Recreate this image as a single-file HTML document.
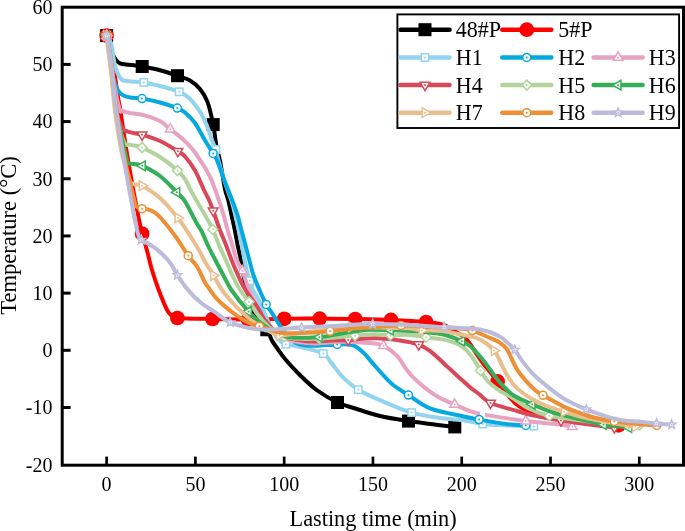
<!DOCTYPE html>
<html><head><meta charset="utf-8"><style>
html,body{margin:0;padding:0;background:#fff;}
body{width:685px;height:531px;overflow:hidden;font-family:"Liberation Serif",serif;}
svg{display:block;will-change:transform;}
</style></head><body>
<svg width="685" height="531" viewBox="0 0 685 531" font-family="Liberation Serif" font-size="20" fill="#000">
<rect width="685" height="531" fill="#fff"/>
<defs><clipPath id="pc"><rect x="63" y="8" width="620" height="457"/></clipPath></defs><g clip-path="url(#pc)"><path d="M106.60,35.60 C106.97,37.00 108.03,41.43 108.80,44.00 C109.57,46.57 110.42,49.00 111.20,51.00 C111.98,53.00 112.62,54.42 113.50,56.00 C114.38,57.58 115.42,59.28 116.50,60.50 C117.58,61.72 118.42,62.62 120.00,63.30 C121.58,63.98 123.38,64.25 126.00,64.60 C128.62,64.95 133.00,65.08 135.70,65.40 C138.40,65.72 138.15,65.68 142.20,66.50 C146.25,67.32 154.12,68.77 160.00,70.30 C165.88,71.83 172.50,74.00 177.50,75.70 C182.50,77.40 186.25,78.28 190.00,80.50 C193.75,82.72 197.07,85.40 200.00,89.00 C202.93,92.60 205.40,96.17 207.60,102.10 C209.80,108.03 211.88,118.28 213.20,124.60 C214.52,130.92 214.83,135.77 215.50,140.00 C216.17,144.23 216.48,146.67 217.20,150.00 C217.92,153.33 218.92,155.83 219.80,160.00 C220.68,164.17 221.60,170.00 222.50,175.00 C223.40,180.00 224.25,185.83 225.20,190.00 C226.15,194.17 227.15,195.83 228.20,200.00 C229.25,204.17 230.40,210.00 231.50,215.00 C232.60,220.00 233.78,225.00 234.80,230.00 C235.82,235.00 236.58,240.00 237.60,245.00 C238.62,250.00 239.75,254.17 240.90,260.00 C242.05,265.83 243.15,273.67 244.50,280.00 C245.85,286.33 247.42,292.50 249.00,298.00 C250.58,303.50 252.42,308.92 254.00,313.00 C255.58,317.08 257.28,319.92 258.50,322.50 C259.72,325.08 260.67,327.05 261.30,328.50 C261.93,329.95 262.13,330.75 262.30,331.20 L262.30,331.20 C262.30,331.70 262.30,333.70 262.30,334.20 L262.30,334.20 C263.48,334.23 268.22,334.37 269.40,334.40 L269.40,334.40 C269.80,335.37 270.53,337.93 271.80,340.20 C273.07,342.47 274.65,344.70 277.00,348.00 C279.35,351.30 282.08,355.50 285.90,360.00 C289.72,364.50 294.78,370.00 299.90,375.00 C305.02,380.00 310.33,385.42 316.60,390.00 C322.87,394.58 331.05,399.42 337.50,402.50 C343.95,405.58 348.22,406.25 355.30,408.50 C362.38,410.75 371.13,413.90 380.00,416.00 C388.87,418.10 400.05,419.77 408.50,421.10 C416.95,422.43 422.98,423.03 430.70,424.00 C438.42,424.97 450.78,426.42 454.80,426.90" fill="none" stroke="#000000" stroke-width="4.0" stroke-linejoin="miter" stroke-linecap="round"/><rect x="100.10" y="29.10" width="13.00" height="13.00" fill="#000000"/><rect x="135.70" y="60.00" width="13.00" height="13.00" fill="#000000"/><rect x="171.00" y="69.20" width="13.00" height="13.00" fill="#000000"/><rect x="206.70" y="118.10" width="13.00" height="13.00" fill="#000000"/><rect x="331.00" y="396.00" width="13.00" height="13.00" fill="#000000"/><rect x="402.00" y="414.60" width="13.00" height="13.00" fill="#000000"/><rect x="448.30" y="420.40" width="13.00" height="13.00" fill="#000000"/><path d="M106.60,35.60 C107.25,38.83 109.17,48.53 110.50,55.00 C111.83,61.47 113.27,66.90 114.60,74.40 C115.93,81.90 117.55,94.07 118.50,100.00 C119.45,105.93 118.98,101.67 120.30,110.00 C121.62,118.33 124.23,136.67 126.40,150.00 C128.57,163.33 131.12,178.00 133.30,190.00 C135.48,202.00 138.03,214.72 139.50,222.00 C140.97,229.28 141.15,230.03 142.10,233.70 C143.05,237.37 144.15,240.28 145.20,244.00 C146.25,247.72 147.27,251.67 148.40,256.00 C149.53,260.33 150.28,264.33 152.00,270.00 C153.72,275.67 156.18,283.33 158.70,290.00 C161.22,296.67 164.92,305.73 167.10,310.00 C169.28,314.27 170.08,314.27 171.80,315.60 C173.52,316.93 170.62,317.43 177.40,318.00 C184.18,318.57 200.73,318.75 212.50,319.00 C224.27,319.25 236.05,319.53 248.00,319.50 C259.95,319.47 272.25,318.95 284.20,318.80 C296.15,318.65 307.87,318.57 319.70,318.60 C331.53,318.63 343.32,318.78 355.20,319.00 C367.08,319.22 379.18,319.40 391.00,319.90 C402.82,320.40 417.50,321.22 426.10,322.00 C434.70,322.78 438.62,323.57 442.60,324.60 C446.58,325.63 447.55,326.87 450.00,328.20 C452.45,329.53 454.77,330.97 457.30,332.60 C459.83,334.23 463.00,336.02 465.20,338.00 C467.40,339.98 467.87,340.75 470.50,344.50 C473.13,348.25 476.48,354.35 481.00,360.50 C485.52,366.65 493.77,376.43 497.60,381.40 C501.43,386.37 501.93,387.60 504.00,390.30 C506.07,393.00 508.00,395.32 510.00,397.60 C512.00,399.88 513.80,402.17 516.00,404.00 C518.20,405.83 520.42,407.22 523.20,408.60 C525.98,409.98 527.82,410.73 532.70,412.30 C537.58,413.87 543.78,416.22 552.50,418.00 C561.22,419.78 574.00,421.78 585.00,423.00 C596.00,424.22 612.92,424.92 618.50,425.30" fill="none" stroke="#ff0000" stroke-width="4.0" stroke-linejoin="round" stroke-linecap="round"/><circle cx="106.60" cy="35.60" r="7.35" fill="#ff0000"/><circle cx="142.10" cy="233.70" r="7.35" fill="#ff0000"/><circle cx="177.40" cy="318.00" r="7.35" fill="#ff0000"/><circle cx="212.50" cy="319.00" r="7.35" fill="#ff0000"/><circle cx="248.00" cy="319.50" r="7.35" fill="#ff0000"/><circle cx="284.20" cy="318.80" r="7.35" fill="#ff0000"/><circle cx="319.70" cy="318.60" r="7.35" fill="#ff0000"/><circle cx="355.20" cy="319.00" r="7.35" fill="#ff0000"/><circle cx="391.00" cy="319.90" r="7.35" fill="#ff0000"/><circle cx="426.10" cy="322.00" r="7.35" fill="#ff0000"/><circle cx="497.60" cy="381.40" r="7.35" fill="#ff0000"/><circle cx="618.50" cy="425.30" r="7.35" fill="#ff0000"/><path d="M106.60,35.60 C107.17,36.50 109.15,39.27 110.00,41.00 C110.85,42.73 111.17,43.67 111.70,46.00 C112.23,48.33 112.78,52.33 113.20,55.00 C113.62,57.67 113.80,59.83 114.20,62.00 C114.60,64.17 114.83,65.77 115.60,68.00 C116.37,70.23 117.63,73.38 118.80,75.40 C119.97,77.42 120.57,79.08 122.60,80.10 C124.63,81.12 127.47,81.12 131.00,81.50 C134.53,81.88 138.97,81.65 143.80,82.40 C148.63,83.15 154.10,84.43 160.00,86.00 C165.90,87.57 174.40,89.85 179.20,91.80 C184.00,93.75 185.63,94.83 188.80,97.70 C191.97,100.57 195.75,105.62 198.20,109.00 C200.65,112.38 201.92,114.87 203.50,118.00 C205.08,121.13 206.23,123.97 207.70,127.80 C209.17,131.63 210.95,137.38 212.30,141.00 C213.65,144.62 214.80,146.33 215.80,149.50 C216.80,152.67 216.63,154.08 218.30,160.00 C219.97,165.92 223.65,178.33 225.80,185.00 C227.95,191.67 229.62,195.00 231.20,200.00 C232.78,205.00 234.07,210.00 235.30,215.00 C236.53,220.00 237.52,225.00 238.60,230.00 C239.68,235.00 240.80,240.00 241.80,245.00 C242.80,250.00 243.60,255.00 244.60,260.00 C245.60,265.00 246.93,271.55 247.80,275.00 C248.67,278.45 248.95,278.20 249.80,280.70 C250.65,283.20 251.67,287.25 252.90,290.00 C254.13,292.75 255.22,293.23 257.20,297.20 C259.18,301.17 262.33,308.33 264.80,313.80 C267.27,319.27 269.63,325.63 272.00,330.00 C274.37,334.37 276.70,337.63 279.00,340.00 C281.30,342.37 281.87,342.95 285.80,344.20 C289.73,345.45 296.35,345.93 302.60,347.50 C308.85,349.07 318.53,351.08 323.30,353.60 C328.07,356.12 327.87,358.58 331.20,362.60 C334.53,366.62 338.78,373.18 343.30,377.70 C347.82,382.22 352.18,385.95 358.30,389.70 C364.42,393.45 371.10,396.38 380.00,400.20 C388.90,404.02 401.70,409.63 411.70,412.60 C421.70,415.57 431.12,416.70 440.00,418.00 C448.88,419.30 457.88,419.40 465.00,420.40 C472.12,421.40 475.20,423.15 482.70,424.00 C490.20,424.85 501.48,425.13 510.00,425.50 C518.52,425.87 529.83,426.08 533.80,426.20" fill="none" stroke="#92d3f0" stroke-width="4.0" stroke-linejoin="round" stroke-linecap="round"/><rect x="102.90" y="31.90" width="7.40" height="7.40" fill="#fff" stroke="#92d3f0" stroke-width="1.5"/><circle cx="106.60" cy="35.60" r="1.0" fill="#92d3f0"/><rect x="140.10" y="78.70" width="7.40" height="7.40" fill="#fff" stroke="#92d3f0" stroke-width="1.5"/><circle cx="143.80" cy="82.40" r="1.0" fill="#92d3f0"/><rect x="175.50" y="88.10" width="7.40" height="7.40" fill="#fff" stroke="#92d3f0" stroke-width="1.5"/><circle cx="179.20" cy="91.80" r="1.0" fill="#92d3f0"/><rect x="212.10" y="145.80" width="7.40" height="7.40" fill="#fff" stroke="#92d3f0" stroke-width="1.5"/><circle cx="215.80" cy="149.50" r="1.0" fill="#92d3f0"/><rect x="246.10" y="277.00" width="7.40" height="7.40" fill="#fff" stroke="#92d3f0" stroke-width="1.5"/><circle cx="249.80" cy="280.70" r="1.0" fill="#92d3f0"/><rect x="282.10" y="340.50" width="7.40" height="7.40" fill="#fff" stroke="#92d3f0" stroke-width="1.5"/><circle cx="285.80" cy="344.20" r="1.0" fill="#92d3f0"/><rect x="319.60" y="349.90" width="7.40" height="7.40" fill="#fff" stroke="#92d3f0" stroke-width="1.5"/><circle cx="323.30" cy="353.60" r="1.0" fill="#92d3f0"/><rect x="354.60" y="386.00" width="7.40" height="7.40" fill="#fff" stroke="#92d3f0" stroke-width="1.5"/><circle cx="358.30" cy="389.70" r="1.0" fill="#92d3f0"/><rect x="408.00" y="408.90" width="7.40" height="7.40" fill="#fff" stroke="#92d3f0" stroke-width="1.5"/><circle cx="411.70" cy="412.60" r="1.0" fill="#92d3f0"/><rect x="479.00" y="420.30" width="7.40" height="7.40" fill="#fff" stroke="#92d3f0" stroke-width="1.5"/><circle cx="482.70" cy="424.00" r="1.0" fill="#92d3f0"/><rect x="530.10" y="422.50" width="7.40" height="7.40" fill="#fff" stroke="#92d3f0" stroke-width="1.5"/><circle cx="533.80" cy="426.20" r="1.0" fill="#92d3f0"/><path d="M106.60,35.60 C107.12,38.50 108.72,46.43 109.70,53.00 C110.68,59.57 111.27,69.05 112.50,75.00 C113.73,80.95 115.67,85.53 117.10,88.70 C118.53,91.87 119.55,92.67 121.10,94.00 C122.65,95.33 124.42,96.07 126.40,96.70 C128.38,97.33 130.40,97.48 133.00,97.80 C135.60,98.12 137.50,97.82 142.00,98.60 C146.50,99.38 154.12,100.92 160.00,102.50 C165.88,104.08 173.13,106.43 177.30,108.10 C181.47,109.77 182.05,110.02 185.00,112.50 C187.95,114.98 191.70,118.42 195.00,123.00 C198.30,127.58 201.78,134.93 204.80,140.00 C207.82,145.07 211.08,150.07 213.10,153.40 C215.12,156.73 215.05,155.57 216.90,160.00 C218.75,164.43 221.67,173.33 224.20,180.00 C226.73,186.67 229.88,194.17 232.10,200.00 C234.32,205.83 235.95,210.00 237.50,215.00 C239.05,220.00 240.08,225.00 241.40,230.00 C242.72,235.00 244.08,240.00 245.40,245.00 C246.72,250.00 247.97,255.00 249.30,260.00 C250.63,265.00 251.70,270.00 253.40,275.00 C255.10,280.00 257.37,285.10 259.50,290.00 C261.63,294.90 264.22,300.70 266.20,304.40 C268.18,308.10 269.43,309.17 271.40,312.20 C273.37,315.23 275.57,318.97 278.00,322.60 C280.43,326.23 283.50,330.93 286.00,334.00 C288.50,337.07 290.67,339.23 293.00,341.00 C295.33,342.77 296.33,343.80 300.00,344.60 C303.67,345.40 308.80,345.83 315.00,345.80 C321.20,345.77 330.98,344.53 337.20,344.40 C343.42,344.27 348.03,343.73 352.30,345.00 C356.57,346.27 359.28,348.82 362.80,352.00 C366.32,355.18 370.53,360.85 373.40,364.10 C376.27,367.35 376.90,368.18 380.00,371.50 C383.10,374.82 387.27,380.07 392.00,384.00 C396.73,387.93 401.95,390.98 408.40,395.10 C414.85,399.22 421.27,405.10 430.70,408.70 C440.13,412.30 456.93,414.88 465.00,416.70 C473.07,418.52 472.25,418.38 479.10,419.60 C485.95,420.82 498.32,423.02 506.10,424.00 C513.88,424.98 522.52,425.25 525.80,425.50" fill="none" stroke="#05a8df" stroke-width="4.0" stroke-linejoin="round" stroke-linecap="round"/><circle cx="106.60" cy="35.60" r="4.00" fill="#fff" stroke="#05a8df" stroke-width="1.5"/><circle cx="106.60" cy="35.60" r="1.0" fill="#05a8df"/><circle cx="142.00" cy="98.60" r="4.00" fill="#fff" stroke="#05a8df" stroke-width="1.5"/><circle cx="142.00" cy="98.60" r="1.0" fill="#05a8df"/><circle cx="177.30" cy="108.10" r="4.00" fill="#fff" stroke="#05a8df" stroke-width="1.5"/><circle cx="177.30" cy="108.10" r="1.0" fill="#05a8df"/><circle cx="213.10" cy="153.40" r="4.00" fill="#fff" stroke="#05a8df" stroke-width="1.5"/><circle cx="213.10" cy="153.40" r="1.0" fill="#05a8df"/><circle cx="266.20" cy="304.40" r="4.00" fill="#fff" stroke="#05a8df" stroke-width="1.5"/><circle cx="266.20" cy="304.40" r="1.0" fill="#05a8df"/><circle cx="337.20" cy="344.40" r="4.00" fill="#fff" stroke="#05a8df" stroke-width="1.5"/><circle cx="337.20" cy="344.40" r="1.0" fill="#05a8df"/><circle cx="408.40" cy="395.10" r="4.00" fill="#fff" stroke="#05a8df" stroke-width="1.5"/><circle cx="408.40" cy="395.10" r="1.0" fill="#05a8df"/><circle cx="479.10" cy="419.60" r="4.00" fill="#fff" stroke="#05a8df" stroke-width="1.5"/><circle cx="479.10" cy="419.60" r="1.0" fill="#05a8df"/><circle cx="525.80" cy="425.50" r="4.00" fill="#fff" stroke="#05a8df" stroke-width="1.5"/><circle cx="525.80" cy="425.50" r="1.0" fill="#05a8df"/><path d="M106.60,35.60 C107.12,38.50 108.72,46.43 109.70,53.00 C110.68,59.57 110.90,65.75 112.50,75.00 C114.10,84.25 117.62,102.53 119.30,108.50 C120.98,114.47 121.12,110.12 122.60,110.80 C124.08,111.48 124.47,111.80 128.20,112.60 C131.93,113.40 139.70,114.20 145.00,115.60 C150.30,117.00 155.78,118.72 160.00,121.00 C164.22,123.28 167.05,126.73 170.30,129.30 C173.55,131.87 176.87,134.23 179.50,136.40 C182.13,138.57 183.90,140.12 186.10,142.30 C188.30,144.48 190.50,146.75 192.70,149.50 C194.90,152.25 197.10,155.50 199.30,158.80 C201.50,162.10 203.87,165.77 205.90,169.30 C207.93,172.83 209.35,174.88 211.50,180.00 C213.65,185.12 216.78,194.17 218.80,200.00 C220.82,205.83 222.13,210.00 223.60,215.00 C225.07,220.00 226.17,225.00 227.60,230.00 C229.03,235.00 230.68,240.00 232.20,245.00 C233.72,250.00 235.00,255.67 236.70,260.00 C238.40,264.33 240.35,266.00 242.40,271.00 C244.45,276.00 246.53,284.12 249.00,290.00 C251.47,295.88 254.53,300.97 257.20,306.30 C259.87,311.63 261.20,316.97 265.00,322.00 C268.80,327.03 274.17,333.10 280.00,336.50 C285.83,339.90 294.17,341.23 300.00,342.40 C305.83,343.57 308.67,343.58 315.00,343.50 C321.33,343.42 330.50,342.07 338.00,341.90 C345.50,341.73 353.83,342.22 360.00,342.50 C366.17,342.78 371.08,343.05 375.00,343.60 C378.92,344.15 379.83,343.75 383.50,345.80 C387.17,347.85 393.20,352.00 397.00,355.90 C400.80,359.80 403.43,365.45 406.30,369.20 C409.17,372.95 411.13,375.33 414.20,378.40 C417.27,381.47 420.77,384.53 424.70,387.60 C428.63,390.67 432.82,393.98 437.80,396.80 C442.78,399.62 448.08,401.78 454.60,404.50 C461.12,407.22 465.03,410.33 476.90,413.10 C488.77,415.87 512.78,419.28 525.80,421.10 C538.82,422.92 547.25,423.08 555.00,424.00 C562.75,424.92 569.42,426.17 572.30,426.60" fill="none" stroke="#e8a2c2" stroke-width="4.0" stroke-linejoin="round" stroke-linecap="round"/><path d="M106.60,30.00 L111.45,38.40 L101.75,38.40Z" fill="#fff" stroke="#e8a2c2" stroke-width="1.5" stroke-linejoin="miter"/><circle cx="106.60" cy="35.60" r="1.0" fill="#e8a2c2"/><path d="M170.30,123.70 L175.15,132.10 L165.45,132.10Z" fill="#fff" stroke="#e8a2c2" stroke-width="1.5" stroke-linejoin="miter"/><circle cx="170.30" cy="129.30" r="1.0" fill="#e8a2c2"/><path d="M242.40,265.40 L247.25,273.80 L237.55,273.80Z" fill="#fff" stroke="#e8a2c2" stroke-width="1.5" stroke-linejoin="miter"/><circle cx="242.40" cy="271.00" r="1.0" fill="#e8a2c2"/><path d="M383.50,340.20 L388.35,348.60 L378.65,348.60Z" fill="#fff" stroke="#e8a2c2" stroke-width="1.5" stroke-linejoin="miter"/><circle cx="383.50" cy="345.80" r="1.0" fill="#e8a2c2"/><path d="M454.60,398.90 L459.45,407.30 L449.75,407.30Z" fill="#fff" stroke="#e8a2c2" stroke-width="1.5" stroke-linejoin="miter"/><circle cx="454.60" cy="404.50" r="1.0" fill="#e8a2c2"/><path d="M525.80,415.50 L530.65,423.90 L520.95,423.90Z" fill="#fff" stroke="#e8a2c2" stroke-width="1.5" stroke-linejoin="miter"/><circle cx="525.80" cy="421.10" r="1.0" fill="#e8a2c2"/><path d="M572.30,421.00 L577.15,429.40 L567.45,429.40Z" fill="#fff" stroke="#e8a2c2" stroke-width="1.5" stroke-linejoin="miter"/><circle cx="572.30" cy="426.60" r="1.0" fill="#e8a2c2"/><path d="M480.3,410.4 L485.2,411.6 L485.0,417.0 L480.0,416.0Z" fill="#fff"/><circle cx="479.10" cy="419.60" r="4.00" fill="#fff" stroke="#05a8df" stroke-width="1.5"/><circle cx="479.10" cy="419.60" r="1.0" fill="#05a8df"/><path d="M106.60,35.60 C107.12,38.50 108.72,46.43 109.70,53.00 C110.68,59.57 111.43,65.50 112.50,75.00 C113.57,84.50 114.47,101.15 116.10,110.00 C117.73,118.85 120.38,124.52 122.30,128.10 C124.22,131.68 125.48,130.63 127.60,131.50 C129.72,132.37 132.58,132.75 135.00,133.30 C137.42,133.85 137.93,133.52 142.10,134.80 C146.27,136.08 154.03,138.27 160.00,141.00 C165.97,143.73 173.73,148.62 177.90,151.20 C182.07,153.78 182.15,153.27 185.00,156.50 C187.85,159.73 191.83,165.02 195.00,170.60 C198.17,176.18 201.67,185.10 204.00,190.00 C206.33,194.90 207.47,196.55 209.00,200.00 C210.53,203.45 211.38,205.70 213.20,210.70 C215.02,215.70 217.77,224.28 219.90,230.00 C222.03,235.72 224.05,240.00 226.00,245.00 C227.95,250.00 229.62,255.00 231.60,260.00 C233.58,265.00 235.58,270.00 237.90,275.00 C240.22,280.00 242.15,284.50 245.50,290.00 C248.85,295.50 254.78,303.00 258.00,308.00 C261.22,313.00 261.13,315.50 264.80,320.00 C268.47,324.50 274.13,331.60 280.00,335.00 C285.87,338.40 294.17,339.30 300.00,340.40 C305.83,341.50 309.17,341.62 315.00,341.60 C320.83,341.58 329.48,340.57 335.00,340.30 C340.52,340.03 341.43,340.33 348.10,340.00 C354.77,339.67 366.35,338.22 375.00,338.30 C383.65,338.38 392.72,339.45 400.00,340.50 C407.28,341.55 413.70,342.85 418.70,344.60 C423.70,346.35 426.45,348.47 430.00,351.00 C433.55,353.53 437.08,357.15 440.00,359.80 C442.92,362.45 445.00,364.58 447.50,366.90 C450.00,369.22 452.50,371.43 455.00,373.70 C457.50,375.97 460.00,378.25 462.50,380.50 C465.00,382.75 467.08,384.82 470.00,387.20 C472.92,389.58 476.58,392.17 480.00,394.80 C483.42,397.43 484.87,400.45 490.50,403.00 C496.13,405.55 506.77,408.05 513.80,410.10 C520.83,412.15 524.83,413.55 532.70,415.30 C540.57,417.05 551.45,419.07 561.00,420.60 C570.55,422.13 581.10,423.35 590.00,424.50 C598.90,425.65 610.33,427.00 614.40,427.50" fill="none" stroke="#d94858" stroke-width="4.0" stroke-linejoin="round" stroke-linecap="round"/><path d="M106.60,41.20 L101.75,32.80 L111.45,32.80Z" fill="#fff" stroke="#d94858" stroke-width="1.5" stroke-linejoin="miter"/><circle cx="106.60" cy="35.60" r="1.0" fill="#d94858"/><path d="M142.10,140.40 L137.25,132.00 L146.95,132.00Z" fill="#fff" stroke="#d94858" stroke-width="1.5" stroke-linejoin="miter"/><circle cx="142.10" cy="134.80" r="1.0" fill="#d94858"/><path d="M177.90,156.80 L173.05,148.40 L182.75,148.40Z" fill="#fff" stroke="#d94858" stroke-width="1.5" stroke-linejoin="miter"/><circle cx="177.90" cy="151.20" r="1.0" fill="#d94858"/><path d="M213.20,216.30 L208.35,207.90 L218.05,207.90Z" fill="#fff" stroke="#d94858" stroke-width="1.5" stroke-linejoin="miter"/><circle cx="213.20" cy="210.70" r="1.0" fill="#d94858"/><path d="M348.10,345.60 L343.25,337.20 L352.95,337.20Z" fill="#fff" stroke="#d94858" stroke-width="1.5" stroke-linejoin="miter"/><circle cx="348.10" cy="340.00" r="1.0" fill="#d94858"/><path d="M418.70,350.20 L413.85,341.80 L423.55,341.80Z" fill="#fff" stroke="#d94858" stroke-width="1.5" stroke-linejoin="miter"/><circle cx="418.70" cy="344.60" r="1.0" fill="#d94858"/><path d="M490.50,408.60 L485.65,400.20 L495.35,400.20Z" fill="#fff" stroke="#d94858" stroke-width="1.5" stroke-linejoin="miter"/><circle cx="490.50" cy="403.00" r="1.0" fill="#d94858"/><path d="M561.00,426.20 L556.15,417.80 L565.85,417.80Z" fill="#fff" stroke="#d94858" stroke-width="1.5" stroke-linejoin="miter"/><circle cx="561.00" cy="420.60" r="1.0" fill="#d94858"/><path d="M614.40,433.10 L609.55,424.70 L619.25,424.70Z" fill="#fff" stroke="#d94858" stroke-width="1.5" stroke-linejoin="miter"/><circle cx="614.40" cy="427.50" r="1.0" fill="#d94858"/><path d="M106.60,35.60 C107.12,38.50 108.72,46.43 109.70,53.00 C110.68,59.57 111.43,65.50 112.50,75.00 C113.57,84.50 114.22,98.90 116.10,110.00 C117.98,121.10 121.50,135.82 123.80,141.60 C126.10,147.38 127.77,143.97 129.90,144.70 C132.03,145.43 134.57,145.52 136.60,146.00 C138.63,146.48 138.20,145.77 142.10,147.60 C146.00,149.43 154.10,153.17 160.00,157.00 C165.90,160.83 173.33,166.92 177.50,170.60 C181.67,174.28 182.82,175.87 185.00,179.10 C187.18,182.33 188.25,185.68 190.60,190.00 C192.95,194.32 196.70,200.83 199.10,205.00 C201.50,209.17 202.70,210.92 205.00,215.00 C207.30,219.08 210.58,224.50 212.90,229.50 C215.22,234.50 216.75,239.92 218.90,245.00 C221.05,250.08 223.58,255.00 225.80,260.00 C228.02,265.00 229.82,270.00 232.20,275.00 C234.58,280.00 237.30,285.55 240.10,290.00 C242.90,294.45 246.02,297.53 249.00,301.70 C251.98,305.87 254.50,310.62 258.00,315.00 C261.50,319.38 265.67,324.40 270.00,328.00 C274.33,331.60 279.00,334.80 284.00,336.60 C289.00,338.40 294.08,338.47 300.00,338.80 C305.92,339.13 310.33,339.12 319.50,338.60 C328.67,338.08 345.75,336.42 355.00,335.70 C364.25,334.98 369.10,334.38 375.00,334.30 C380.90,334.22 384.57,335.10 390.40,335.20 C396.23,335.30 404.05,334.55 410.00,334.90 C415.95,335.25 420.67,336.55 426.10,337.30 C431.53,338.05 437.03,338.12 442.60,339.40 C448.17,340.68 454.80,342.37 459.50,345.00 C464.20,347.63 467.30,350.93 470.80,355.20 C474.30,359.47 477.63,366.23 480.50,370.60 C483.37,374.97 484.75,378.00 488.00,381.40 C491.25,384.80 496.00,388.32 500.00,391.00 C504.00,393.68 507.33,394.63 512.00,397.50 C516.67,400.37 521.77,405.15 528.00,408.20 C534.23,411.25 538.68,413.53 549.40,415.80 C560.12,418.07 580.30,420.27 592.30,421.80 C604.30,423.33 613.53,424.47 621.40,425.00 C629.27,425.53 636.48,425.00 639.50,425.00" fill="none" stroke="#b2d49c" stroke-width="4.0" stroke-linejoin="round" stroke-linecap="round"/><path d="M106.60,30.60 L111.60,35.60 L106.60,40.60 L101.60,35.60Z" fill="#fff" stroke="#b2d49c" stroke-width="1.5" stroke-linejoin="miter"/><circle cx="106.60" cy="35.60" r="1.0" fill="#b2d49c"/><path d="M142.10,142.60 L147.10,147.60 L142.10,152.60 L137.10,147.60Z" fill="#fff" stroke="#b2d49c" stroke-width="1.5" stroke-linejoin="miter"/><circle cx="142.10" cy="147.60" r="1.0" fill="#b2d49c"/><path d="M177.50,165.60 L182.50,170.60 L177.50,175.60 L172.50,170.60Z" fill="#fff" stroke="#b2d49c" stroke-width="1.5" stroke-linejoin="miter"/><circle cx="177.50" cy="170.60" r="1.0" fill="#b2d49c"/><path d="M212.90,224.50 L217.90,229.50 L212.90,234.50 L207.90,229.50Z" fill="#fff" stroke="#b2d49c" stroke-width="1.5" stroke-linejoin="miter"/><circle cx="212.90" cy="229.50" r="1.0" fill="#b2d49c"/><path d="M249.00,296.70 L254.00,301.70 L249.00,306.70 L244.00,301.70Z" fill="#fff" stroke="#b2d49c" stroke-width="1.5" stroke-linejoin="miter"/><circle cx="249.00" cy="301.70" r="1.0" fill="#b2d49c"/><path d="M284.00,331.60 L289.00,336.60 L284.00,341.60 L279.00,336.60Z" fill="#fff" stroke="#b2d49c" stroke-width="1.5" stroke-linejoin="miter"/><circle cx="284.00" cy="336.60" r="1.0" fill="#b2d49c"/><path d="M319.50,333.60 L324.50,338.60 L319.50,343.60 L314.50,338.60Z" fill="#fff" stroke="#b2d49c" stroke-width="1.5" stroke-linejoin="miter"/><circle cx="319.50" cy="338.60" r="1.0" fill="#b2d49c"/><path d="M355.00,330.70 L360.00,335.70 L355.00,340.70 L350.00,335.70Z" fill="#fff" stroke="#b2d49c" stroke-width="1.5" stroke-linejoin="miter"/><circle cx="355.00" cy="335.70" r="1.0" fill="#b2d49c"/><path d="M390.40,330.20 L395.40,335.20 L390.40,340.20 L385.40,335.20Z" fill="#fff" stroke="#b2d49c" stroke-width="1.5" stroke-linejoin="miter"/><circle cx="390.40" cy="335.20" r="1.0" fill="#b2d49c"/><path d="M426.10,332.30 L431.10,337.30 L426.10,342.30 L421.10,337.30Z" fill="#fff" stroke="#b2d49c" stroke-width="1.5" stroke-linejoin="miter"/><circle cx="426.10" cy="337.30" r="1.0" fill="#b2d49c"/><path d="M480.50,365.60 L485.50,370.60 L480.50,375.60 L475.50,370.60Z" fill="#fff" stroke="#b2d49c" stroke-width="1.5" stroke-linejoin="miter"/><circle cx="480.50" cy="370.60" r="1.0" fill="#b2d49c"/><path d="M549.40,410.80 L554.40,415.80 L549.40,420.80 L544.40,415.80Z" fill="#fff" stroke="#b2d49c" stroke-width="1.5" stroke-linejoin="miter"/><circle cx="549.40" cy="415.80" r="1.0" fill="#b2d49c"/><path d="M639.50,420.00 L644.50,425.00 L639.50,430.00 L634.50,425.00Z" fill="#fff" stroke="#b2d49c" stroke-width="1.5" stroke-linejoin="miter"/><circle cx="639.50" cy="425.00" r="1.0" fill="#b2d49c"/><path d="M106.60,35.60 C107.12,38.50 108.72,46.43 109.70,53.00 C110.68,59.57 111.43,65.50 112.50,75.00 C113.57,84.50 113.82,96.25 116.10,110.00 C118.38,123.75 124.20,148.63 126.20,157.50 C128.20,166.37 126.40,162.07 128.10,163.20 C129.80,164.33 134.02,163.87 136.40,164.30 C138.78,164.73 138.47,163.85 142.40,165.80 C146.33,167.75 154.25,171.58 160.00,176.00 C165.75,180.42 172.73,188.08 176.90,192.30 C181.07,196.52 181.82,196.35 185.00,201.30 C188.18,206.25 193.17,216.88 196.00,222.00 C198.83,227.12 200.05,228.17 202.00,232.00 C203.95,235.83 205.48,240.33 207.70,245.00 C209.92,249.67 212.72,255.00 215.30,260.00 C217.88,265.00 220.52,270.00 223.20,275.00 C225.88,280.00 227.18,283.92 231.40,290.00 C235.62,296.08 243.40,305.83 248.50,311.50 C253.60,317.17 256.00,319.82 262.00,324.00 C268.00,328.18 274.95,334.40 284.50,336.60 C294.05,338.80 310.05,337.68 319.30,337.20 C328.55,336.72 334.05,334.67 340.00,333.70 C345.95,332.73 350.00,332.05 355.00,331.40 C360.00,330.75 364.10,330.00 370.00,329.80 C375.90,329.60 383.73,330.02 390.40,330.20 C397.07,330.38 403.90,330.55 410.00,330.90 C416.10,331.25 421.57,331.73 427.00,332.30 C432.43,332.87 436.80,332.83 442.60,334.30 C448.40,335.77 457.10,339.07 461.80,341.10 C466.50,343.13 467.27,343.35 470.80,346.50 C474.33,349.65 479.58,355.87 483.00,360.00 C486.42,364.13 488.63,367.72 491.30,371.30 C493.97,374.88 496.65,378.68 499.00,381.50 C501.35,384.32 502.93,385.87 505.40,388.20 C507.87,390.53 509.33,392.82 513.80,395.50 C518.27,398.18 525.15,401.32 532.20,404.30 C539.25,407.28 548.10,410.88 556.10,413.40 C564.10,415.92 572.28,417.53 580.20,419.40 C588.12,421.27 595.50,423.23 603.60,424.60 C611.70,425.97 624.60,427.10 628.80,427.60" fill="none" stroke="#35af57" stroke-width="4.0" stroke-linejoin="round" stroke-linecap="round"/><path d="M101.00,35.60 L109.40,30.75 L109.40,40.45Z" fill="#fff" stroke="#35af57" stroke-width="1.5" stroke-linejoin="miter"/><circle cx="106.60" cy="35.60" r="1.0" fill="#35af57"/><path d="M136.80,165.80 L145.20,160.95 L145.20,170.65Z" fill="#fff" stroke="#35af57" stroke-width="1.5" stroke-linejoin="miter"/><circle cx="142.40" cy="165.80" r="1.0" fill="#35af57"/><path d="M171.30,192.30 L179.70,187.45 L179.70,197.15Z" fill="#fff" stroke="#35af57" stroke-width="1.5" stroke-linejoin="miter"/><circle cx="176.90" cy="192.30" r="1.0" fill="#35af57"/><path d="M242.90,311.50 L251.30,306.65 L251.30,316.35Z" fill="#fff" stroke="#35af57" stroke-width="1.5" stroke-linejoin="miter"/><circle cx="248.50" cy="311.50" r="1.0" fill="#35af57"/><path d="M313.70,337.20 L322.10,332.35 L322.10,342.05Z" fill="#fff" stroke="#35af57" stroke-width="1.5" stroke-linejoin="miter"/><circle cx="319.30" cy="337.20" r="1.0" fill="#35af57"/><path d="M384.80,330.20 L393.20,325.35 L393.20,335.05Z" fill="#fff" stroke="#35af57" stroke-width="1.5" stroke-linejoin="miter"/><circle cx="390.40" cy="330.20" r="1.0" fill="#35af57"/><path d="M456.20,341.10 L464.60,336.25 L464.60,345.95Z" fill="#fff" stroke="#35af57" stroke-width="1.5" stroke-linejoin="miter"/><circle cx="461.80" cy="341.10" r="1.0" fill="#35af57"/><path d="M526.60,404.30 L535.00,399.45 L535.00,409.15Z" fill="#fff" stroke="#35af57" stroke-width="1.5" stroke-linejoin="miter"/><circle cx="532.20" cy="404.30" r="1.0" fill="#35af57"/><path d="M598.00,424.60 L606.40,419.75 L606.40,429.45Z" fill="#fff" stroke="#35af57" stroke-width="1.5" stroke-linejoin="miter"/><circle cx="603.60" cy="424.60" r="1.0" fill="#35af57"/><path d="M623.20,427.60 L631.60,422.75 L631.60,432.45Z" fill="#fff" stroke="#35af57" stroke-width="1.5" stroke-linejoin="miter"/><circle cx="628.80" cy="427.60" r="1.0" fill="#35af57"/><path d="M106.60,35.60 C106.92,38.50 107.72,46.43 108.50,53.00 C109.28,59.57 110.23,65.50 111.30,75.00 C112.37,84.50 113.25,97.50 114.90,110.00 C116.55,122.50 118.75,138.32 121.20,150.00 C123.65,161.68 127.83,174.58 129.60,180.10 C131.37,185.62 130.73,182.32 131.80,183.10 C132.87,183.88 134.28,184.37 136.00,184.80 C137.72,185.23 138.10,183.50 142.10,185.70 C146.10,187.90 154.03,192.63 160.00,198.00 C165.97,203.37 172.97,211.73 177.90,217.90 C182.83,224.07 185.92,229.32 189.60,235.00 C193.28,240.68 197.60,247.83 200.00,252.00 C202.40,256.17 201.73,256.08 204.00,260.00 C206.27,263.92 210.60,270.50 213.60,275.50 C216.60,280.50 218.73,285.33 222.00,290.00 C225.27,294.67 229.75,299.67 233.20,303.50 C236.65,307.33 239.87,310.33 242.70,313.00 C245.53,315.67 247.82,317.67 250.20,319.50 C252.58,321.33 254.03,322.17 257.00,324.00 C259.97,325.83 264.28,328.60 268.00,330.50 C271.72,332.40 274.80,334.90 279.30,335.40 C283.80,335.90 288.22,334.32 295.00,333.50 C301.78,332.68 310.57,331.62 320.00,330.50 C329.43,329.38 341.60,327.28 351.60,326.80 C361.60,326.32 370.27,327.33 380.00,327.60 C389.73,327.87 403.02,327.93 410.00,328.40 C416.98,328.87 416.47,329.98 421.90,330.40 C427.33,330.82 435.38,330.07 442.60,330.90 C449.82,331.73 458.97,333.98 465.20,335.40 C471.43,336.82 475.17,336.87 480.00,339.40 C484.83,341.93 490.75,346.72 494.20,350.60 C497.65,354.48 498.45,358.43 500.70,362.70 C502.95,366.97 504.97,371.92 507.70,376.20 C510.43,380.48 512.80,384.42 517.10,388.40 C521.40,392.38 528.05,396.98 533.50,400.10 C538.95,403.22 544.68,405.15 549.80,407.10 C554.92,409.05 557.12,409.75 564.20,411.80 C571.28,413.85 580.47,416.92 592.30,419.40 C604.13,421.88 628.05,425.48 635.20,426.70" fill="none" stroke="#ebbe8e" stroke-width="4.0" stroke-linejoin="round" stroke-linecap="round"/><path d="M112.20,35.60 L103.80,40.45 L103.80,30.75Z" fill="#fff" stroke="#ebbe8e" stroke-width="1.5" stroke-linejoin="miter"/><circle cx="106.60" cy="35.60" r="1.0" fill="#ebbe8e"/><path d="M147.70,185.70 L139.30,190.55 L139.30,180.85Z" fill="#fff" stroke="#ebbe8e" stroke-width="1.5" stroke-linejoin="miter"/><circle cx="142.10" cy="185.70" r="1.0" fill="#ebbe8e"/><path d="M183.50,217.90 L175.10,222.75 L175.10,213.05Z" fill="#fff" stroke="#ebbe8e" stroke-width="1.5" stroke-linejoin="miter"/><circle cx="177.90" cy="217.90" r="1.0" fill="#ebbe8e"/><path d="M219.20,275.50 L210.80,280.35 L210.80,270.65Z" fill="#fff" stroke="#ebbe8e" stroke-width="1.5" stroke-linejoin="miter"/><circle cx="213.60" cy="275.50" r="1.0" fill="#ebbe8e"/><path d="M284.90,335.40 L276.50,340.25 L276.50,330.55Z" fill="#fff" stroke="#ebbe8e" stroke-width="1.5" stroke-linejoin="miter"/><circle cx="279.30" cy="335.40" r="1.0" fill="#ebbe8e"/><path d="M357.20,326.80 L348.80,331.65 L348.80,321.95Z" fill="#fff" stroke="#ebbe8e" stroke-width="1.5" stroke-linejoin="miter"/><circle cx="351.60" cy="326.80" r="1.0" fill="#ebbe8e"/><path d="M427.50,330.40 L419.10,335.25 L419.10,325.55Z" fill="#fff" stroke="#ebbe8e" stroke-width="1.5" stroke-linejoin="miter"/><circle cx="421.90" cy="330.40" r="1.0" fill="#ebbe8e"/><path d="M499.80,350.60 L491.40,355.45 L491.40,345.75Z" fill="#fff" stroke="#ebbe8e" stroke-width="1.5" stroke-linejoin="miter"/><circle cx="494.20" cy="350.60" r="1.0" fill="#ebbe8e"/><path d="M569.80,411.80 L561.40,416.65 L561.40,406.95Z" fill="#fff" stroke="#ebbe8e" stroke-width="1.5" stroke-linejoin="miter"/><circle cx="564.20" cy="411.80" r="1.0" fill="#ebbe8e"/><path d="M640.80,426.70 L632.40,431.55 L632.40,421.85Z" fill="#fff" stroke="#ebbe8e" stroke-width="1.5" stroke-linejoin="miter"/><circle cx="635.20" cy="426.70" r="1.0" fill="#ebbe8e"/><path d="M106.60,35.60 C107.17,38.50 108.97,46.43 110.00,53.00 C111.03,59.57 111.73,65.50 112.80,75.00 C113.87,84.50 114.75,97.50 116.40,110.00 C118.05,122.50 119.85,135.50 122.70,150.00 C125.55,164.50 131.28,187.67 133.50,197.00 C135.72,206.33 134.57,204.05 136.00,206.00 C137.43,207.95 140.00,208.10 142.10,208.70 C144.20,209.30 146.00,208.57 148.60,209.60 C151.20,210.63 153.38,210.67 157.70,214.90 C162.02,219.13 169.42,228.20 174.50,235.00 C179.58,241.80 184.40,250.37 188.20,255.70 C192.00,261.03 194.50,262.53 197.30,267.00 C200.10,271.47 202.93,278.77 205.00,282.50 C207.07,286.23 208.13,287.15 209.70,289.40 C211.27,291.65 212.83,294.03 214.40,296.00 C215.97,297.97 217.53,299.63 219.10,301.20 C220.67,302.77 221.45,303.43 223.80,305.40 C226.15,307.37 230.05,310.65 233.20,313.00 C236.35,315.35 239.55,317.62 242.70,319.50 C245.85,321.38 249.32,323.18 252.10,324.30 C254.88,325.42 254.75,324.80 259.40,326.20 C264.05,327.60 273.23,331.57 280.00,332.70 C286.77,333.83 291.67,333.25 300.00,333.00 C308.33,332.75 320.83,332.00 330.00,331.20 C339.17,330.40 347.50,328.90 355.00,328.20 C362.50,327.50 367.33,327.47 375.00,327.00 C382.67,326.53 390.17,325.37 401.00,325.40 C411.83,325.43 430.50,326.73 440.00,327.20 C449.50,327.67 452.60,327.63 458.00,328.20 C463.40,328.77 467.62,329.22 472.40,330.60 C477.18,331.98 482.37,334.65 486.70,336.50 C491.03,338.35 495.08,339.67 498.40,341.70 C501.72,343.73 504.45,345.98 506.60,348.70 C508.75,351.42 509.55,354.50 511.30,358.00 C513.05,361.50 514.58,365.80 517.10,369.70 C519.62,373.60 523.28,377.90 526.40,381.40 C529.52,384.90 533.03,388.38 535.80,390.70 C538.57,393.02 539.62,393.33 543.00,395.30 C546.38,397.27 551.90,400.28 556.10,402.50 C560.30,404.72 562.17,406.18 568.20,408.60 C574.23,411.02 584.62,414.87 592.30,417.00 C599.98,419.13 606.27,420.20 614.30,421.40 C622.33,422.60 633.42,423.52 640.50,424.20 C647.58,424.88 654.08,425.28 656.80,425.50" fill="none" stroke="#ee8e35" stroke-width="4.0" stroke-linejoin="round" stroke-linecap="round"/><circle cx="106.60" cy="35.60" r="4.00" fill="#fff" stroke="#ee8e35" stroke-width="1.5"/><circle cx="106.60" cy="35.60" r="1.0" fill="#ee8e35"/><circle cx="142.10" cy="208.70" r="4.00" fill="#fff" stroke="#ee8e35" stroke-width="1.5"/><circle cx="142.10" cy="208.70" r="1.0" fill="#ee8e35"/><circle cx="188.20" cy="255.70" r="4.00" fill="#fff" stroke="#ee8e35" stroke-width="1.5"/><circle cx="188.20" cy="255.70" r="1.0" fill="#ee8e35"/><circle cx="259.40" cy="326.20" r="4.00" fill="#fff" stroke="#ee8e35" stroke-width="1.5"/><circle cx="259.40" cy="326.20" r="1.0" fill="#ee8e35"/><circle cx="330.00" cy="331.20" r="4.00" fill="#fff" stroke="#ee8e35" stroke-width="1.5"/><circle cx="330.00" cy="331.20" r="1.0" fill="#ee8e35"/><circle cx="401.00" cy="325.40" r="4.00" fill="#fff" stroke="#ee8e35" stroke-width="1.5"/><circle cx="401.00" cy="325.40" r="1.0" fill="#ee8e35"/><circle cx="472.40" cy="330.60" r="4.00" fill="#fff" stroke="#ee8e35" stroke-width="1.5"/><circle cx="472.40" cy="330.60" r="1.0" fill="#ee8e35"/><circle cx="543.00" cy="395.30" r="4.00" fill="#fff" stroke="#ee8e35" stroke-width="1.5"/><circle cx="543.00" cy="395.30" r="1.0" fill="#ee8e35"/><circle cx="614.30" cy="421.40" r="4.00" fill="#fff" stroke="#ee8e35" stroke-width="1.5"/><circle cx="614.30" cy="421.40" r="1.0" fill="#ee8e35"/><circle cx="656.80" cy="425.50" r="4.00" fill="#fff" stroke="#ee8e35" stroke-width="1.5"/><circle cx="656.80" cy="425.50" r="1.0" fill="#ee8e35"/><path d="M106.60,35.60 C107.12,38.50 108.72,46.43 109.70,53.00 C110.68,59.57 111.43,65.50 112.50,75.00 C113.57,84.50 114.45,97.50 116.10,110.00 C117.75,122.50 120.20,136.67 122.40,150.00 C124.60,163.33 126.87,176.67 129.30,190.00 C131.73,203.33 135.00,221.70 137.00,230.00 C139.00,238.30 139.43,237.55 141.30,239.80 C143.17,242.05 145.47,241.78 148.20,243.50 C150.93,245.22 154.55,247.50 157.70,250.10 C160.85,252.70 164.60,256.35 167.10,259.10 C169.60,261.85 170.98,263.93 172.70,266.60 C174.42,269.27 174.90,271.27 177.40,275.10 C179.90,278.93 183.78,284.98 187.70,289.60 C191.62,294.22 196.35,299.03 200.90,302.80 C205.45,306.57 210.12,308.93 215.00,312.20 C219.88,315.47 223.27,319.55 230.20,322.40 C237.13,325.25 248.30,328.20 256.60,329.30 C264.90,330.40 272.48,329.28 280.00,329.00 C287.52,328.72 292.03,328.15 301.70,327.60 C311.37,327.05 326.17,326.30 338.00,325.70 C349.83,325.10 360.70,324.12 372.70,324.00 C384.70,323.88 398.10,324.47 410.00,325.00 C421.90,325.53 432.43,326.45 444.10,327.20 C455.77,327.95 470.95,328.07 480.00,329.50 C489.05,330.93 493.78,333.57 498.40,335.80 C503.02,338.03 504.97,340.55 507.70,342.90 C510.43,345.25 512.45,346.98 514.80,349.90 C517.15,352.82 518.68,356.32 521.80,360.40 C524.92,364.48 528.83,369.73 533.50,374.40 C538.17,379.07 544.35,384.12 549.80,388.40 C555.25,392.68 560.13,396.62 566.20,400.10 C572.27,403.58 577.83,406.12 586.20,409.30 C594.57,412.48 607.43,417.12 616.40,419.20 C625.37,421.28 633.30,421.08 640.00,421.80 C646.70,422.52 651.33,423.03 656.60,423.50 C661.87,423.97 669.10,424.42 671.60,424.60" fill="none" stroke="#bbbbdb" stroke-width="4.0" stroke-linejoin="round" stroke-linecap="round"/><path d="M106.60,31.00 L107.78,33.98 L110.97,34.18 L108.50,36.22 L109.30,39.32 L106.60,37.60 L103.90,39.32 L104.70,36.22 L102.23,34.18 L105.42,33.98Z" fill="#fff" stroke="#bbbbdb" stroke-width="1.5" stroke-linejoin="miter"/><circle cx="106.60" cy="35.60" r="1.0" fill="#bbbbdb"/><path d="M141.30,235.20 L142.48,238.18 L145.67,238.38 L143.20,240.42 L144.00,243.52 L141.30,241.80 L138.60,243.52 L139.40,240.42 L136.93,238.38 L140.12,238.18Z" fill="#fff" stroke="#bbbbdb" stroke-width="1.5" stroke-linejoin="miter"/><circle cx="141.30" cy="239.80" r="1.0" fill="#bbbbdb"/><path d="M177.40,270.50 L178.58,273.48 L181.77,273.68 L179.30,275.72 L180.10,278.82 L177.40,277.10 L174.70,278.82 L175.50,275.72 L173.03,273.68 L176.22,273.48Z" fill="#fff" stroke="#bbbbdb" stroke-width="1.5" stroke-linejoin="miter"/><circle cx="177.40" cy="275.10" r="1.0" fill="#bbbbdb"/><path d="M230.20,317.80 L231.38,320.78 L234.57,320.98 L232.10,323.02 L232.90,326.12 L230.20,324.40 L227.50,326.12 L228.30,323.02 L225.83,320.98 L229.02,320.78Z" fill="#fff" stroke="#bbbbdb" stroke-width="1.5" stroke-linejoin="miter"/><circle cx="230.20" cy="322.40" r="1.0" fill="#bbbbdb"/><path d="M301.70,323.00 L302.88,325.98 L306.07,326.18 L303.60,328.22 L304.40,331.32 L301.70,329.60 L299.00,331.32 L299.80,328.22 L297.33,326.18 L300.52,325.98Z" fill="#fff" stroke="#bbbbdb" stroke-width="1.5" stroke-linejoin="miter"/><circle cx="301.70" cy="327.60" r="1.0" fill="#bbbbdb"/><path d="M372.70,319.40 L373.88,322.38 L377.07,322.58 L374.60,324.62 L375.40,327.72 L372.70,326.00 L370.00,327.72 L370.80,324.62 L368.33,322.58 L371.52,322.38Z" fill="#fff" stroke="#bbbbdb" stroke-width="1.5" stroke-linejoin="miter"/><circle cx="372.70" cy="324.00" r="1.0" fill="#bbbbdb"/><path d="M444.10,322.60 L445.28,325.58 L448.47,325.78 L446.00,327.82 L446.80,330.92 L444.10,329.20 L441.40,330.92 L442.20,327.82 L439.73,325.78 L442.92,325.58Z" fill="#fff" stroke="#bbbbdb" stroke-width="1.5" stroke-linejoin="miter"/><circle cx="444.10" cy="327.20" r="1.0" fill="#bbbbdb"/><path d="M514.80,345.30 L515.98,348.28 L519.17,348.48 L516.70,350.52 L517.50,353.62 L514.80,351.90 L512.10,353.62 L512.90,350.52 L510.43,348.48 L513.62,348.28Z" fill="#fff" stroke="#bbbbdb" stroke-width="1.5" stroke-linejoin="miter"/><circle cx="514.80" cy="349.90" r="1.0" fill="#bbbbdb"/><path d="M586.20,404.70 L587.38,407.68 L590.57,407.88 L588.10,409.92 L588.90,413.02 L586.20,411.30 L583.50,413.02 L584.30,409.92 L581.83,407.88 L585.02,407.68Z" fill="#fff" stroke="#bbbbdb" stroke-width="1.5" stroke-linejoin="miter"/><circle cx="586.20" cy="409.30" r="1.0" fill="#bbbbdb"/><path d="M656.60,418.90 L657.78,421.88 L660.97,422.08 L658.50,424.12 L659.30,427.22 L656.60,425.50 L653.90,427.22 L654.70,424.12 L652.23,422.08 L655.42,421.88Z" fill="#fff" stroke="#bbbbdb" stroke-width="1.5" stroke-linejoin="miter"/><circle cx="656.60" cy="423.50" r="1.0" fill="#bbbbdb"/><path d="M671.60,420.00 L672.78,422.98 L675.97,423.18 L673.50,425.22 L674.30,428.32 L671.60,426.60 L668.90,428.32 L669.70,425.22 L667.23,423.18 L670.42,422.98Z" fill="#fff" stroke="#bbbbdb" stroke-width="1.5" stroke-linejoin="miter"/><circle cx="671.60" cy="424.60" r="1.0" fill="#bbbbdb"/></g>
<rect x="62.2" y="7.2" width="621.3" height="458" fill="none" stroke="#000" stroke-width="3"/><line x1="62.2" y1="407.48" x2="70.6" y2="407.48" stroke="#000" stroke-width="3"/><text x="52.5" y="414.38" text-anchor="end">-10</text><line x1="62.2" y1="350.30" x2="70.6" y2="350.30" stroke="#000" stroke-width="3"/><text x="52.5" y="357.20" text-anchor="end">0</text><line x1="62.2" y1="293.12" x2="70.6" y2="293.12" stroke="#000" stroke-width="3"/><text x="52.5" y="300.02" text-anchor="end">10</text><line x1="62.2" y1="235.94" x2="70.6" y2="235.94" stroke="#000" stroke-width="3"/><text x="52.5" y="242.84" text-anchor="end">20</text><line x1="62.2" y1="178.76" x2="70.6" y2="178.76" stroke="#000" stroke-width="3"/><text x="52.5" y="185.66" text-anchor="end">30</text><line x1="62.2" y1="121.58" x2="70.6" y2="121.58" stroke="#000" stroke-width="3"/><text x="52.5" y="128.48" text-anchor="end">40</text><line x1="62.2" y1="64.40" x2="70.6" y2="64.40" stroke="#000" stroke-width="3"/><text x="52.5" y="71.30" text-anchor="end">50</text><text x="52.5" y="14.12" text-anchor="end">60</text><text x="52.5" y="471.56" text-anchor="end">-20</text><line x1="106.60" y1="465.2" x2="106.60" y2="456.6" stroke="#000" stroke-width="2.7"/><text x="106.60" y="491.3" text-anchor="middle">0</text><line x1="195.38" y1="465.2" x2="195.38" y2="456.6" stroke="#000" stroke-width="2.7"/><text x="195.38" y="491.3" text-anchor="middle">50</text><line x1="284.17" y1="465.2" x2="284.17" y2="456.6" stroke="#000" stroke-width="2.7"/><text x="284.17" y="491.3" text-anchor="middle">100</text><line x1="372.96" y1="465.2" x2="372.96" y2="456.6" stroke="#000" stroke-width="2.7"/><text x="372.96" y="491.3" text-anchor="middle">150</text><line x1="461.74" y1="465.2" x2="461.74" y2="456.6" stroke="#000" stroke-width="2.7"/><text x="461.74" y="491.3" text-anchor="middle">200</text><line x1="550.52" y1="465.2" x2="550.52" y2="456.6" stroke="#000" stroke-width="2.7"/><text x="550.52" y="491.3" text-anchor="middle">250</text><line x1="639.31" y1="465.2" x2="639.31" y2="456.6" stroke="#000" stroke-width="2.7"/><text x="639.31" y="491.3" text-anchor="middle">300</text><text transform="translate(373.1,526.1) scale(1,1.06)" text-anchor="middle" font-size="22.3">Lasting time (min)</text><text transform="translate(16.0,235.5) rotate(-90)" text-anchor="middle" font-size="22.6">Temperature (°C)</text>
<rect x="397.4" y="14.4" width="281.7" height="113.6" fill="#fff" stroke="#000" stroke-width="1.9"/><line x1="400.5" y1="29.7" x2="449.5" y2="29.7" stroke="#000000" stroke-width="4.5" stroke-linecap="round"/><rect x="418.50" y="23.20" width="13.00" height="13.00" fill="#000000"/><text transform="translate(455.8,37.30) scale(1,1.06)" font-size="22">48#P</text><line x1="502.3" y1="29.7" x2="551.3" y2="29.7" stroke="#ff0000" stroke-width="4.5" stroke-linecap="round"/><circle cx="526.80" cy="29.70" r="7.35" fill="#ff0000"/><text transform="translate(558.3,37.30) scale(1,1.06)" font-size="22">5#P</text><line x1="400.5" y1="57.4" x2="449.5" y2="57.4" stroke="#92d3f0" stroke-width="4.5" stroke-linecap="round"/><rect x="421.30" y="53.70" width="7.40" height="7.40" fill="#fff" stroke="#92d3f0" stroke-width="1.5"/><circle cx="425.00" cy="57.40" r="1.0" fill="#92d3f0"/><text transform="translate(455.8,65.00) scale(1,1.06)" font-size="22">H1</text><line x1="502.3" y1="57.4" x2="551.3" y2="57.4" stroke="#05a8df" stroke-width="4.5" stroke-linecap="round"/><circle cx="526.80" cy="57.40" r="4.00" fill="#fff" stroke="#05a8df" stroke-width="1.5"/><circle cx="526.80" cy="57.40" r="1.0" fill="#05a8df"/><text transform="translate(558.3,65.00) scale(1,1.06)" font-size="22">H2</text><line x1="593.6" y1="57.4" x2="642.6" y2="57.4" stroke="#e8a2c2" stroke-width="4.5" stroke-linecap="round"/><path d="M618.10,51.80 L622.95,60.20 L613.25,60.20Z" fill="#fff" stroke="#e8a2c2" stroke-width="1.5" stroke-linejoin="miter"/><circle cx="618.10" cy="57.40" r="1.0" fill="#e8a2c2"/><text transform="translate(648.8,65.00) scale(1,1.06)" font-size="22">H3</text><line x1="400.5" y1="85.1" x2="449.5" y2="85.1" stroke="#d94858" stroke-width="4.5" stroke-linecap="round"/><path d="M425.00,90.70 L420.15,82.30 L429.85,82.30Z" fill="#fff" stroke="#d94858" stroke-width="1.5" stroke-linejoin="miter"/><circle cx="425.00" cy="85.10" r="1.0" fill="#d94858"/><text transform="translate(455.8,92.70) scale(1,1.06)" font-size="22">H4</text><line x1="502.3" y1="85.1" x2="551.3" y2="85.1" stroke="#b2d49c" stroke-width="4.5" stroke-linecap="round"/><path d="M526.80,80.10 L531.80,85.10 L526.80,90.10 L521.80,85.10Z" fill="#fff" stroke="#b2d49c" stroke-width="1.5" stroke-linejoin="miter"/><circle cx="526.80" cy="85.10" r="1.0" fill="#b2d49c"/><text transform="translate(558.3,92.70) scale(1,1.06)" font-size="22">H5</text><line x1="593.6" y1="85.1" x2="642.6" y2="85.1" stroke="#35af57" stroke-width="4.5" stroke-linecap="round"/><path d="M612.50,85.10 L620.90,80.25 L620.90,89.95Z" fill="#fff" stroke="#35af57" stroke-width="1.5" stroke-linejoin="miter"/><circle cx="618.10" cy="85.10" r="1.0" fill="#35af57"/><text transform="translate(648.8,92.70) scale(1,1.06)" font-size="22">H6</text><line x1="400.5" y1="112.7" x2="449.5" y2="112.7" stroke="#ebbe8e" stroke-width="4.5" stroke-linecap="round"/><path d="M430.60,112.70 L422.20,117.55 L422.20,107.85Z" fill="#fff" stroke="#ebbe8e" stroke-width="1.5" stroke-linejoin="miter"/><circle cx="425.00" cy="112.70" r="1.0" fill="#ebbe8e"/><text transform="translate(455.8,120.30) scale(1,1.06)" font-size="22">H7</text><line x1="502.3" y1="112.7" x2="551.3" y2="112.7" stroke="#ee8e35" stroke-width="4.5" stroke-linecap="round"/><circle cx="526.80" cy="112.70" r="4.00" fill="#fff" stroke="#ee8e35" stroke-width="1.5"/><circle cx="526.80" cy="112.70" r="1.0" fill="#ee8e35"/><text transform="translate(558.3,120.30) scale(1,1.06)" font-size="22">H8</text><line x1="593.6" y1="112.7" x2="642.6" y2="112.7" stroke="#bbbbdb" stroke-width="4.5" stroke-linecap="round"/><path d="M618.10,108.10 L619.28,111.08 L622.47,111.28 L620.00,113.32 L620.80,116.42 L618.10,114.70 L615.40,116.42 L616.20,113.32 L613.73,111.28 L616.92,111.08Z" fill="#fff" stroke="#bbbbdb" stroke-width="1.5" stroke-linejoin="miter"/><circle cx="618.10" cy="112.70" r="1.0" fill="#bbbbdb"/><text transform="translate(648.8,120.30) scale(1,1.06)" font-size="22">H9</text>
</svg>
</body></html>
